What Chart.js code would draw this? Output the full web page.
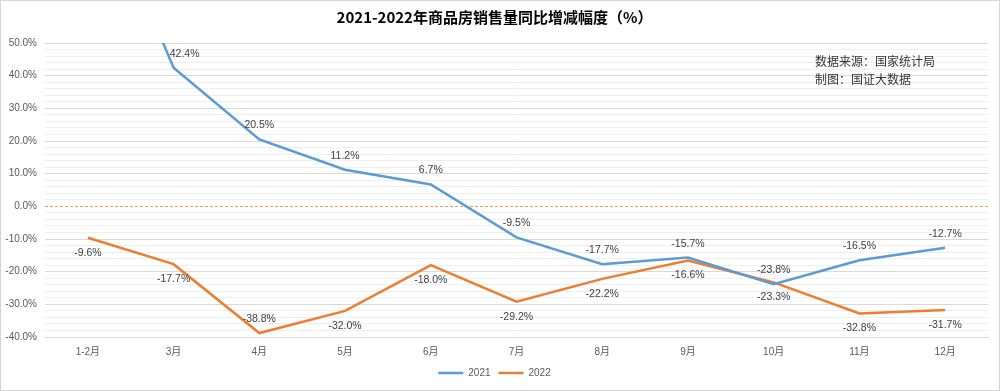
<!DOCTYPE html>
<html>
<head>
<meta charset="utf-8">
<script src="https://cdn.jsdelivr.net/npm/chart.js@4"></script>
<style>
  body { margin: 0; background: #fff; }
  #wrap { width: 1000px; height: 391px; border: 1px solid #d4d4d4; box-sizing: border-box; }
</style>
</head>
<body>
<div id="wrap"><canvas id="chart" width="998" height="389"></canvas></div>
<script>
// 2021-2022 商品房销售量同比 (%)
const months = ['1-2月', '3月', '4月', '5月', '6月', '7月', '8月', '9月', '10月', '11月', '12月'];
const sales2021 = [104.9, 42.4, 20.5, 11.2, 6.7, -9.5, -17.7, -15.7, -23.8, -16.5, -12.7];
const sales2022 = [-9.6, -17.7, -38.8, -32.0, -18.0, -29.2, -22.2, -16.6, -23.3, -32.8, -31.7];
const sourceNote = ['数据来源：国家统计局', '制图：国证大数据'];

const FONT = '"Liberation Sans", "Noto Sans CJK SC", sans-serif';

// zero line (dashed) + point labels + source note
const extras = {
    id: 'extras',
    beforeDatasetsDraw(chart) {
        const { ctx, chartArea, scales } = chart;
        const y0 = Math.round(scales.y.getPixelForValue(0)) + 0.5;
        ctx.save();
        ctx.strokeStyle = '#f19a5e';
        ctx.lineWidth = 1;
        ctx.setLineDash([3, 2]);
        ctx.beginPath();
        ctx.moveTo(chartArea.left, y0);
        ctx.lineTo(chartArea.right, y0);
        ctx.stroke();
        ctx.restore();
    },
    afterDatasetsDraw(chart) {
        const { ctx, scales } = chart;
        ctx.save();
        ctx.font = '10.5px ' + FONT;
        ctx.fillStyle = '#404040';
        ctx.textAlign = 'center';
        ctx.textBaseline = 'middle';
        chart.data.datasets.forEach((ds, di) => {
            const meta = chart.getDatasetMeta(di);
            meta.data.forEach((pt, i) => {
                const v = ds.data[i];
                if (v > scales.y.max || v < scales.y.min) return;
                let dx = 0, dy;
                if (di === 0) {
                    dy = -14;
                    if (i > 0 && ds.data[i - 1] > scales.y.max) dx = 11;
                } else {
                    dy = v < -35 ? -14 : 15;
                }
                ctx.fillText(v.toFixed(1) + '%', pt.x + dx, pt.y + dy);
            });
        });
        ctx.font = '12px "Noto Sans CJK SC", sans-serif';
        ctx.fillStyle = '#333';
        ctx.textAlign = 'left';
        sourceNote.forEach((t, i) => ctx.fillText(t, 814, 60 + i * 18));
        ctx.restore();
    }
};

const ctx = document.getElementById('chart').getContext('2d');
new Chart(ctx, {
    type: 'line',
    data: {
        labels: months,
        datasets: [{
            label: '2021',
            data: sales2021,
            borderColor: '#5b9bd5',
            backgroundColor: '#5b9bd5',
            borderWidth: 2.5,
            pointRadius: 0,
            tension: 0,
            fill: false
        }, {
            label: '2022',
            data: sales2022,
            borderColor: '#ed7d31',
            backgroundColor: '#ed7d31',
            borderWidth: 2.5,
            pointRadius: 0,
            tension: 0,
            fill: false
        }]
    },
    options: {
        responsive: false,
        animation: false,
        layout: { padding: { right: 11, left: 0, top: 0, bottom: 2 } },
        plugins: {
            title: {
                display: true,
                text: '2021-2022年商品房销售量同比增减幅度（%）',
                color: '#000',
                font: { family: '"Noto Sans CJK SC", sans-serif', size: 15, weight: 'bold' },
                padding: { top: 7, bottom: 17 }
            },
            legend: {
                position: 'bottom',
                labels: {
                    usePointStyle: true,
                    pointStyle: 'line',
                    pointStyleWidth: 25,
                    color: '#595959',
                    font: { family: FONT, size: 10 },
                    padding: 8,
                    boxHeight: 10
                }
            },
            tooltip: { enabled: false }
        },
        scales: {
            x: {
                offset: true,
                grid: { display: false, drawTicks: false },
                border: { display: true, color: '#d9d9d9' },
                ticks: { color: '#595959', font: { family: FONT, size: 10 }, padding: 9, maxRotation: 0 },
                afterFit(s) { s.height = 23; }
            },
            y: {
                min: -40,
                max: 50,
                grid: {
                    drawTicks: false,
                    color: c => c.tick.value === 0 ? 'rgba(0,0,0,0)' : (c.tick.value % 10 === 0 ? '#d9d9d9' : '#efefef'),
                    lineWidth: 1
                },
                border: { display: false },
                ticks: {
                    stepSize: 2,
                    maxTicksLimit: 100,
                    autoSkip: false,
                    color: '#595959',
                    font: { family: FONT, size: 10 },
                    padding: 8,
                    callback: v => v % 10 === 0 ? v.toFixed(1) + '%' : ''
                },
                afterFit(s) { s.width = 44; }
            }
        }
    },
    plugins: [extras]
});
</script>
</body>
</html>
